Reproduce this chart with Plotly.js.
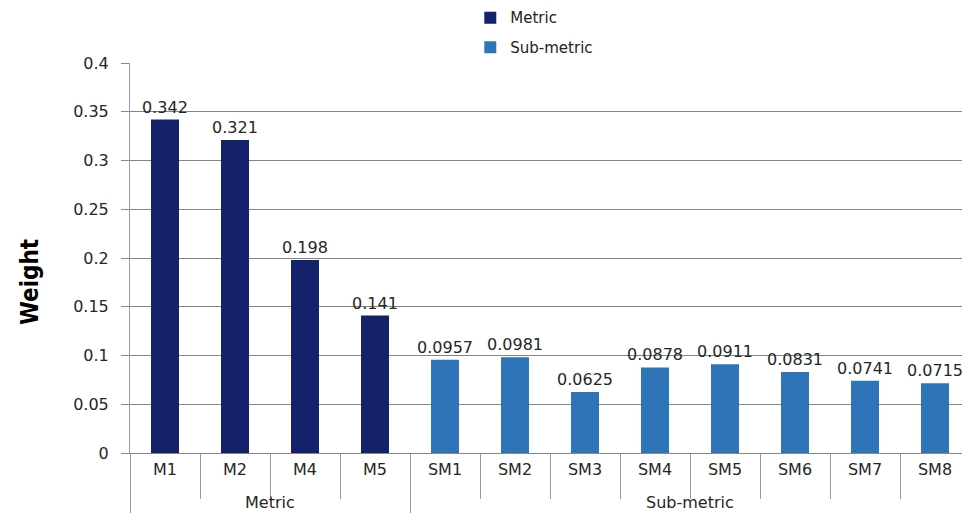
<!DOCTYPE html>
<html>
<head>
<meta charset="utf-8">
<script src="https://cdn.plot.ly/plotly-3.0.1.min.js"></script>
<style>
  html, body { margin: 0; padding: 0; background: #fff; }
  #chart { width: 962px; height: 513px; }
</style>
</head>
<body>
<div id="chart"></div>
<script>
// Weights of the metrics and sub-metrics
const metricLabels = ["M1", "M2", "M4", "M5"];
const metricWeights = [0.342, 0.321, 0.198, 0.141];
const subMetricLabels = ["SM1", "SM2", "SM3", "SM4", "SM5", "SM6", "SM7", "SM8"];
const subMetricWeights = [0.0957, 0.0981, 0.0625, 0.0878, 0.0911, 0.0831, 0.0741, 0.0715];
const groupNames = ["Metric", "Sub-metric"];
const yTicks = [0, 0.05, 0.1, 0.15, 0.2, 0.25, 0.3, 0.35, 0.4];

const labelFont = { family: "DejaVu Sans, Verdana, sans-serif", size: 16, color: "#262626" };
const allLabels = metricLabels.concat(subMetricLabels);

// empty helper traces so the overlaying tick axes get drawn
function axisHolder(axisId) {
  return { type: "scatter", x: [], y: [], xaxis: axisId, yaxis: "y", showlegend: false, hoverinfo: "skip" };
}

const traces = [
  {
    type: "bar",
    name: groupNames[0],
    legendgroup: "a",
    x: metricLabels,
    y: metricWeights,
    text: metricWeights.map(String),
    textposition: "outside",
    constraintext: "none",
    textfont: labelFont,
    marker: { color: "#13226a" },
    width: 0.4,
    cliponaxis: false
  },
  {
    type: "bar",
    name: groupNames[1],
    legendgroup: "b",
    x: subMetricLabels,
    y: subMetricWeights,
    text: subMetricWeights.map(String),
    textposition: "outside",
    constraintext: "none",
    textfont: labelFont,
    marker: { color: "#2e74b8" },
    width: 0.4,
    cliponaxis: false
  },
  axisHolder("x2"),
  axisHolder("x3")
];

// Plot area is wider than the page, so the last category runs off the right edge
const catWidthPx = 70;
const plotWidthPx = 962 - 130;
const xRange = [-0.5, -0.5 + plotWidthPx / catWidthPx];

// category boundaries and group extents (in category index units)
const boundaries = allLabels.map((_, i) => i - 0.5).concat([allLabels.length - 0.5]);
const groupEdges = [-0.5, metricLabels.length - 0.5, allLabels.length - 0.5];
const groupCenters = [
  (metricLabels.length - 1) / 2,
  metricLabels.length + (subMetricLabels.length - 1) / 2
];

const layout = {
  width: 962,
  height: 513,
  margin: { l: 130, r: 0, t: 63, b: 60 },
  paper_bgcolor: "#fff",
  plot_bgcolor: "#fff",
  barmode: "overlay",
  showlegend: true,
  legend: {
    x: 0.409, y: 1.158, xanchor: "left", yanchor: "top",
    font: { family: "DejaVu Sans, Verdana, sans-serif", size: 15, color: "#222" },
    tracegroupgap: 7,
    itemwidth: 30,
    traceorder: "grouped",
    bgcolor: "rgba(0,0,0,0)"
  },
  xaxis: {
    type: "category",
    categoryorder: "array",
    categoryarray: allLabels,
    range: xRange,
    ticks: "",
    showline: true,
    linecolor: "#888",
    tickfont: labelFont,
    ticklabelstandoff: 2,
    showgrid: false,
    fixedrange: true
  },
  // tick marks between categories
  xaxis2: {
    overlaying: "x",
    anchor: "y",
    side: "bottom",
    range: xRange,
    tickmode: "array",
    tickvals: boundaries,
    showticklabels: false,
    ticks: "outside",
    ticklen: 45,
    tickcolor: "#9a9a9a",
    showgrid: false,
    zeroline: false,
    showline: false,
    fixedrange: true
  },
  // dividers between the two groups, running to the bottom
  xaxis3: {
    overlaying: "x",
    anchor: "y",
    side: "bottom",
    range: xRange,
    tickmode: "array",
    tickvals: groupEdges,
    showticklabels: false,
    ticks: "outside",
    ticklen: 62,
    tickcolor: "#9a9a9a",
    showgrid: false,
    zeroline: false,
    showline: false,
    fixedrange: true
  },
  yaxis: {
    range: [0, 0.4],
    tickvals: yTicks,
    ticktext: yTicks.map(String),
    ticks: "outside",
    ticklen: 8,
    tickcolor: "#888",
    ticklabelstandoff: 9,
    showline: true,
    linecolor: "#999",
    showgrid: true,
    gridcolor: "#858585",
    gridwidth: 1,
    zeroline: false,
    tickfont: labelFont,
    fixedrange: true
  },
  annotations: [
    {
      text: "Weight",
      textangle: -90,
      xref: "paper", yref: "paper",
      x: -0.1202, y: 0.4385,
      xanchor: "center", yanchor: "middle",
      showarrow: false,
      font: { family: "DejaVu Sans Condensed, DejaVu Sans, sans-serif", size: 24, color: "#000", weight: "bold" }
    }
  ].concat(groupNames.map((g, i) => ({
    text: g,
    xref: "x", yref: "paper",
    x: groupCenters[i], y: -0.128,
    xanchor: "center", yanchor: "middle",
    showarrow: false,
    font: labelFont
  }))),
  font: labelFont
};

Plotly.newPlot("chart", traces, layout, { displayModeBar: false, staticPlot: true });
</script>
</body>
</html>
